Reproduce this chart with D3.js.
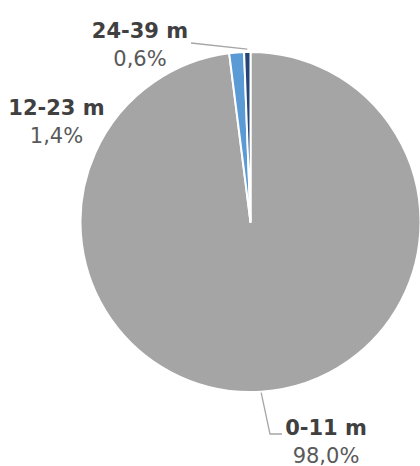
<!DOCTYPE html>
<html>
<head>
<meta charset="utf-8">
<script src="https://cdn.jsdelivr.net/npm/d3@7"></script>
<style>
  html, body { margin: 0; padding: 0; background: #fff; }
  svg { display: block; }
</style>
</head>
<body>
<svg id="chart" width="420" height="466"></svg>
<script>
const categories = ["0-11 m", "12-23 m", "24-39 m"];
const values = [98.0, 1.4, 0.6];
const valueLabels = ["98,0%", "1,4%", "0,6%"];
const colors = ["#A5A5A5", "#5B9BD5", "#264478"];

const width = 420, height = 466;
const cx = 250.5, cy = 222, r = 170;

const svg = d3.select("#chart");
const g = svg.append("g").attr("transform", `translate(${cx},${cy})`);

const pie = d3.pie().sort(null).value(d => d.value);
const data = categories.map((c, i) => ({ cat: c, value: values[i], label: valueLabels[i], color: colors[i] }));
const arcs = pie(data);
const arc = d3.arc().innerRadius(0).outerRadius(r);
const edge = d3.arc().innerRadius(r).outerRadius(r);
const outer = d3.arc().innerRadius(r + 3).outerRadius(r + 3);

g.selectAll("path.slice").data(arcs).enter().append("path")
  .attr("class", "slice")
  .attr("d", arc)
  .attr("fill", d => d.data.color)
  .attr("stroke", "#fff")
  .attr("stroke-width", 2)
  .attr("stroke-linejoin", "round");

// label layout (absolute page coordinates of label centres / baselines)
const labelLayout = [
  { x: 326, y: 435, anchor: "middle" },
  { x: 56.5, y: 115, anchor: "middle" },
  { x: 140, y: 38, anchor: "middle" }
];
const lineGap = 27.5;

const labels = svg.append("g");
arcs.forEach((a, i) => {
  const L = labelLayout[i];
  labels.append("text")
    .attr("x", L.x).attr("y", L.y)
    .attr("text-anchor", L.anchor)
    .attr("font-family", "DejaVu Sans, Verdana, sans-serif")
    .attr("font-size", 21)
    .attr("font-weight", "bold")
    .attr("fill", "#404040")
    .text(a.data.cat);
  labels.append("text")
    .attr("x", L.x).attr("y", L.y + lineGap)
    .attr("text-anchor", L.anchor)
    .attr("font-family", "DejaVu Sans, Verdana, sans-serif")
    .attr("font-size", 21)
    .attr("fill", "#595959")
    .text(a.data.label);
});

// leader lines
const leader = svg.append("g").attr("fill", "none").attr("stroke", "#A6A6A6").attr("stroke-width", 1.3);
{
  // 0-11 m
  const c = edge.centroid(arcs[0]);
  const p0 = [cx + c[0], cy + c[1] + 1];
  leader.append("polyline")
    .attr("points", [p0, [270, 434], [282, 434]].map(p => p.join(",")).join(" "));
  // 24-39 m
  const c2 = outer.centroid(arcs[2]);
  const q0 = [cx + c2[0], cy + c2[1]];
  leader.append("polyline")
    .attr("points", [[191, 43], q0].map(p => p.join(",")).join(" "));
}
</script>
</body>
</html>
